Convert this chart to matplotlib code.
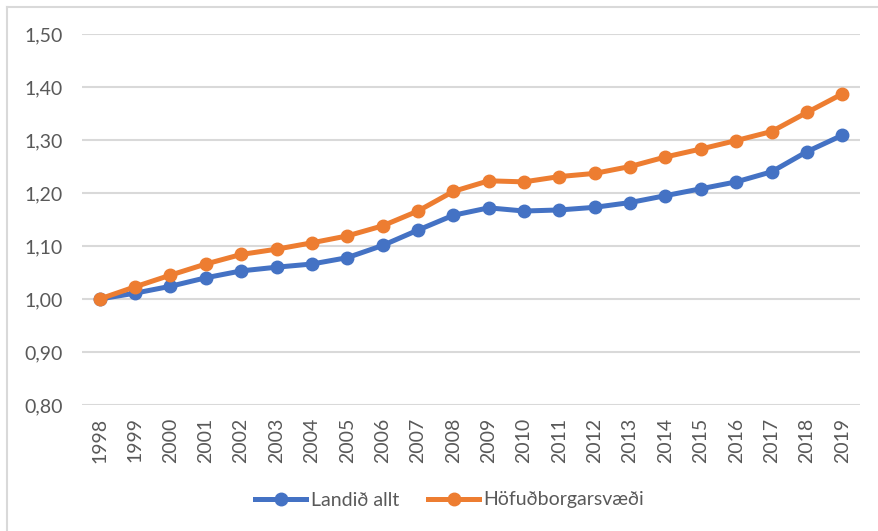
import matplotlib
matplotlib.use("Agg")
import matplotlib.pyplot as plt
from matplotlib.lines import Line2D

years = [str(y) for y in range(1998, 2020)]
landid_allt = [1.000, 1.011, 1.024, 1.040, 1.053, 1.060, 1.066, 1.078, 1.101, 1.130,
               1.158, 1.172, 1.166, 1.168, 1.173, 1.182, 1.195, 1.208, 1.221, 1.240,
               1.278, 1.309]
hofudborgarsvaedi = [1.000, 1.023, 1.045, 1.066, 1.084, 1.094, 1.106, 1.119, 1.138, 1.166,
                     1.203, 1.223, 1.221, 1.231, 1.237, 1.250, 1.268, 1.283, 1.299, 1.316,
                     1.352, 1.387]
series_names = ["Landið allt", "Höfuðborgarsvæði"]
yticks = [0.80, 0.90, 1.00, 1.10, 1.20, 1.30, 1.40, 1.50]

blue = "#4472C4"
orange = "#ED7D31"
grid_c = "#D9D9D9"
text_c = "#595959"

plt.rcParams['font.family'] = ['Lato', 'DejaVu Sans']

W, H = 879, 531
fig = plt.figure(figsize=(W / 100, H / 100), dpi=100)
ax = fig.add_axes([82 / W, 1 - 405 / H, (860 - 82) / W, (405 - 34) / H])

x = list(range(len(years)))
ax.plot(x, landid_allt, color=blue, lw=3.6, marker='o', ms=9, zorder=3,
        solid_capstyle='round', label=series_names[0])
ax.plot(x, hofudborgarsvaedi, color=orange, lw=3.6, marker='o', ms=9, zorder=4,
        solid_capstyle='round', label=series_names[1])

ax.set_xlim(-0.5, len(years) - 0.5)
ax.set_ylim(0.80, 1.50)
ax.set_yticks(yticks)
ax.set_yticklabels([f"{v:.2f}".replace('.', ',') for v in yticks])
ax.set_xticks(x)
ax.set_xticklabels(years, rotation=90)
ax.tick_params(axis='both', length=0, colors=text_c, labelsize=14)
ax.tick_params(axis='y', pad=14)
ax.tick_params(axis='x', pad=9)
for s in ax.spines.values():
    s.set_visible(False)
ax.yaxis.grid(True, color=grid_c, lw=1.5, zorder=0)
ax.set_axisbelow(True)

handles = [Line2D([0], [0], color=blue, lw=3.6, marker='o', ms=9),
           Line2D([0], [0], color=orange, lw=3.6, marker='o', ms=9)]
leg = fig.legend(handles, series_names, loc='center', bbox_to_anchor=(450 / W, 1 - 500 / H),
                 ncol=2, frameon=False, fontsize=14, handlelength=2.6,
                 handletextpad=0.25, columnspacing=1.5)
for t in leg.get_texts():
    t.set_color(text_c)

# chart border
fig.add_artist(Line2D([7 / W, 7 / W], [0, 1 - 7 / H], color=grid_c, lw=1.5,
                      transform=fig.transFigure))
fig.add_artist(Line2D([7 / W, 1], [1 - 7 / H, 1 - 7 / H], color=grid_c, lw=1.5,
                      transform=fig.transFigure))

fig.savefig("out.png", dpi=100)
